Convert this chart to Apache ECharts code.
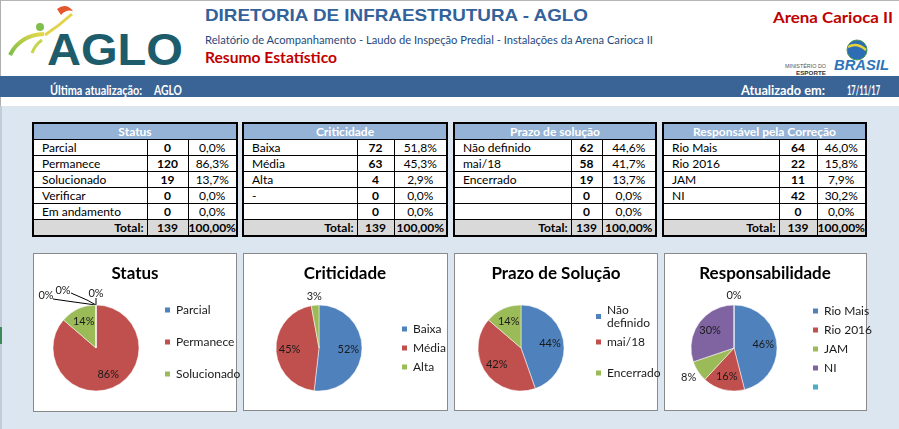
<!DOCTYPE html>
<html><head><meta charset="utf-8">
<script src="https://cdn.jsdelivr.net/npm/echarts@6.0.0/dist/echarts.min.js"></script>
<style>
html,body{margin:0;padding:0;width:899px;height:429px;overflow:hidden;background:#fff;font-family:Lato,'Open Sans',sans-serif;}
#page{position:relative;width:899px;height:429px;}
.abs{position:absolute;white-space:nowrap;}
.fit{display:inline-block;transform-origin:0 0;}
table.t{position:absolute;border-collapse:collapse;table-layout:fixed;border:2px solid #000;font-family:Lato,sans-serif;font-size:12px;color:#000;background:#fff;}
table.t td{border:1px solid #000;height:15px;padding:0;line-height:15px;overflow:hidden;white-space:nowrap;}
table.t th{background:#95B3D7;color:#fff;font-weight:bold;height:15px;padding:0;line-height:15px;border-bottom:1px solid #000;font-size:12px;}
table.t td.lab{padding-left:8px;}
table.t td.cnt{text-align:center;font-weight:bold;}
table.t td.pct{text-align:center;}
table.t tr.tot td{background:#D9D9D9;font-weight:bold;}
table.t tr.tot td.lab{text-align:right;padding-right:3px;padding-left:0;}
.box{position:absolute;background:#fff;border:1px solid #8a8a8a;box-sizing:border-box;}
#chart{position:absolute;left:0;top:0;width:899px;height:429px;z-index:5;pointer-events:none;}
</style>
</head>
<body>
<div id="page">
  <div class="abs" style="left:0;top:0;width:899px;height:1px;background:#b5b5b5;"></div>
  <div class="abs" style="left:0;top:0;width:1px;height:106px;background:#b0b0b0;"></div>
  <svg class="abs" width="200" height="76" style="left:0;top:0">
    <defs><linearGradient id="g1" x1="0" y1="1" x2="1" y2="0"><stop offset="0" stop-color="#7DBE4A"/><stop offset="1" stop-color="#E6D84A"/></linearGradient></defs>
    <path d="M57 9 Q66 2 73 11 Q66 9 61 15 Z" fill="#E4572E"/>
    <path d="M72 14 Q60 25 45 35" stroke="#E3D24C" stroke-width="3" fill="none"/>
    <path d="M10 55 Q20 35 44 34" stroke="url(#g1)" stroke-width="4" fill="none"/>
    <circle cx="40" cy="27" r="4" fill="#7FBF4D"/>
    <path d="M32 53 Q35 45 42 40" stroke="#C6D54B" stroke-width="3" fill="none"/>
  </svg>
  <div class="abs" style="left:47px;top:29px;"><span class="fit" data-w="136" style="font-family:'Liberation Sans',Arial,sans-serif;font-weight:bold;font-size:44px;line-height:42px;color:#1D5C6B;">AGLO</span></div>
  <div class="abs" style="left:45px;top:68px;"><span class="fit" data-w="138" style="font-family:'Liberation Sans',Arial,sans-serif;font-weight:bold;font-size:6px;line-height:6px;color:#1D5C6B;">AUTORIDADE DE GOVERNANÇA DO LEGADO OLÍMPICO</span></div>

  <div class="abs" style="left:205px;top:5px;"><span class="fit" data-w="383" style="font-family:'Liberation Sans',Arial,sans-serif;font-weight:bold;font-size:17px;line-height:18px;color:#33629B;">DIRETORIA DE INFRAESTRUTURA - AGLO</span></div>
  <div class="abs" style="left:205px;top:28px;"><span class="fit" data-w="448" style="font-size:11px;line-height:13px;color:#1F497D;">Relatório de Acompanhamento - Laudo de Inspeção Predial - Instalações da Arena Carioca II</span></div>
  <div class="abs" style="left:205px;top:47px;"><span class="fit" data-w="132" style="font-size:15px;line-height:18px;font-weight:bold;color:#C00000;">Resumo Estatístico</span></div>
  <div class="abs" style="left:773px;top:7px;"><span class="fit" data-w="120" style="font-size:15px;line-height:18px;font-weight:bold;color:#C00000;">Arena Carioca II</span></div>

  <div class="abs" style="left:785px;top:52px;"><span class="fit" data-w="41" style="font-family:'Liberation Sans',sans-serif;font-size:6px;line-height:6px;color:#555;">MINISTÉRIO DO</span></div>
  <div class="abs" style="left:796px;top:59px;"><span class="fit" data-w="30" style="font-family:'Liberation Sans',sans-serif;font-size:6px;line-height:6px;font-weight:bold;color:#333;">ESPORTE</span></div>
  <svg class="abs" width="70" height="36" style="left:830px;top:38px">
    <circle cx="27" cy="12" r="10" fill="#2C6DB3"/>
    <path d="M18 9 Q27 4 36 12" stroke="#E9D33C" stroke-width="2.5" fill="none"/>
    <circle cx="27" cy="12" r="10" fill="none" stroke="#4B9A52" stroke-width="1"/>
  </svg>
  <div class="abs" style="left:834px;top:54px;"><span class="fit" data-w="55" style="font-family:'Liberation Sans',sans-serif;font-style:italic;font-weight:bold;font-size:15px;line-height:15px;color:#2E74B8;">BRASIL</span></div>
  <div class="abs" style="left:838px;top:69px;"><span class="fit" data-w="50" style="font-family:'Liberation Sans',sans-serif;font-size:3px;line-height:3px;color:#6a8db8;">GOVERNO FEDERAL</span></div>

  <div class="abs" style="left:0;top:76px;width:899px;height:21px;background:#3A6396;"></div>
  <div class="abs" style="left:50px;top:79px;"><span class="fit" data-w="92" style="font-size:12.5px;line-height:15px;font-weight:bold;color:#fff;">Última atualização:</span></div>
  <div class="abs" style="left:154px;top:79px;"><span class="fit" data-w="28" style="font-size:12.5px;line-height:15px;font-weight:bold;color:#fff;">AGLO</span></div>
  <div class="abs" style="left:741px;top:79px;"><span class="fit" data-w="84" style="font-size:12.5px;line-height:15px;font-weight:bold;color:#fff;">Atualizado em:</span></div>
  <div class="abs" style="left:847px;top:79px;"><span class="fit" data-w="33" style="font-size:12.5px;line-height:15px;font-weight:bold;color:#fff;">17/11/17</span></div>

  <div class="abs" style="left:0;top:106px;width:899px;height:323px;background:#DCE6F1;"></div>
  <div class="abs" style="left:0;top:106px;width:2px;height:323px;background:#c2cbd7;"></div>
  <div class="abs" style="left:0;top:327px;width:2px;height:17px;background:#3b8a5a;"></div>

  <div id="tables"></div>

  <div class="box" style="left:33px;top:253px;width:204px;height:159px;"></div>
  <div class="box" style="left:243px;top:253px;width:205px;height:158px;"></div>
  <div class="box" style="left:454px;top:253px;width:204px;height:158px;"></div>
  <div class="box" style="left:664px;top:253px;width:203px;height:158px;"></div>
</div>
<div id="chart"></div>
<script>
// ---------------- DATA ----------------
const statusTitle = 'Status';
const statusCategories = ['Parcial', 'Permanece', 'Solucionado', 'Verificar', 'Em andamento'];
const statusCounts = [0, 120, 19, 0, 0];

const critTitle = 'Criticidade';
const critCategories = ['Baixa', 'Média', 'Alta', '-', ''];
const critCounts = [72, 63, 4, 0, 0];

const prazoTitle = 'Prazo de solução';
const prazoCategories = ['Não definido', 'mai/18', 'Encerrado', '', ''];
const prazoCounts = [62, 58, 19, 0, 0];

const respTitle = 'Responsável pela Correção';
const respCategories = ['Rio Mais', 'Rio 2016', 'JAM', 'NI', ''];
const respCounts = [64, 22, 11, 42, 0];

const pieTitles = ['Status', 'Criticidade', 'Prazo de Solução', 'Responsabilidade'];
const totalLabel = 'Total:';
const totalPctLabel = '100,00%';

// ---------------- TABLES ----------------
function pctText(v, total) { return (v / total * 100).toFixed(1).replace('.', ',') + '%'; }
function buildTable(left, top, colW, title, cats, counts) {
  const total = counts.reduce((a, b) => a + b, 0);
  const w = colW.reduce((a, b) => a + b, 0);
  let h = `<table class="t" style="left:${left}px;top:${top}px;width:${w}px;">`;
  h += '<colgroup>' + colW.map(c => `<col style="width:${c}px">`).join('') + '</colgroup>';
  h += `<tr><th colspan="3">${title}</th></tr>`;
  cats.forEach((c, i) => {
    h += `<tr><td class="lab">${c}</td><td class="cnt">${counts[i]}</td><td class="pct">${pctText(counts[i], total)}</td></tr>`;
  });
  h += `<tr class="tot"><td class="lab">${totalLabel}</td><td class="cnt">${total}</td><td class="pct">${totalPctLabel}</td></tr>`;
  h += '</table>';
  return h;
}
document.getElementById('tables').innerHTML =
  buildTable(32, 122, [114, 41, 49], statusTitle, statusCategories, statusCounts) +
  buildTable(242, 122, [114, 37, 53], critTitle, critCategories, critCounts) +
  buildTable(453, 122, [117, 31, 54], prazoTitle, prazoCategories, prazoCounts) +
  buildTable(662, 122, [116, 38, 49], respTitle, respCategories, respCounts);

// fit header texts
document.querySelectorAll('.fit').forEach(el => {
  const target = +el.dataset.w;
  const r = el.getBoundingClientRect();
  if (r.width > 0) el.style.transform = `scaleX(${target / r.width})`;
});

// ---------------- PIES ----------------
const palette = ['#4F81BD', '#C0504D', '#9BBB59', '#8064A2', '#4BACC6'];
const FONT = 'Lato, sans-serif';
const R = 43, CY = 348;

function makeLayout(cx, outside, special) {
  return function (p) {
    const i = p.dataIndex;
    if (special && special[i]) {
      const s = special[i];
      const a = [cx, CY - R];
      return {
        x: a[0] + s.l[0], y: a[1] + s.l[1], align: 'center', verticalAlign: 'middle',
        labelLinePoints: s.line.map(d => [a[0] + d[0], a[1] + d[1]])
      };
    }
    if (outside && outside[i] != null) {
      let px, py;
      if (p.labelLinePoints && p.labelLinePoints[0]) { px = p.labelLinePoints[0][0]; py = p.labelLinePoints[0][1]; }
      else { const lr = p.labelRect; px = lr.x + lr.width / 2; py = lr.y + lr.height / 2; }
      const dx = px - cx, dy = py - CY, d = Math.hypot(dx, dy) || 1;
      return { x: cx + dx / d * outside[i], y: CY + dy / d * outside[i], align: 'center', verticalAlign: 'middle' };
    }
    const lr = p.labelRect;
    const lx = lr.x + lr.width / 2, ly = lr.y + lr.height / 2;
    return { x: cx + (lx - cx) * 1.2, y: CY + (ly - CY) * 1.2, align: 'center', verticalAlign: 'middle' };
  };
}

function pieData(cats, counts, n, outsideIdx, lineIdx) {
  const out = [];
  for (let i = 0; i < n; i++) {
    const item = { name: cats[i] === '' ? ' ' : cats[i], value: counts[i], itemStyle: { color: palette[i] } };
    if (outsideIdx.includes(i)) {
      item.label = { position: 'outside' };
      item.labelLine = lineIdx.includes(i)
        ? { show: true, length: 6, length2: 6, lineStyle: { color: '#000', width: 1 } }
        : { show: true, length: 2, length2: 0, lineStyle: { width: 0, opacity: 0 } };
    }
    out.push(item);
  }
  return out;
}

function pieSeries(cx, data, layout) {
  return {
    type: 'pie', radius: R, center: [cx, CY], startAngle: 90, clockwise: true,
    percentPrecision: 0, silent: true, animation: false, avoidLabelOverlap: false,
    label: { position: 'inside', formatter: '{d}%', fontSize: 11, color: '#1a1a1a', fontFamily: FONT },
    labelLine: { show: false },
    itemStyle: { borderColor: '#fff', borderWidth: 0.5 },
    emphasis: { disabled: true },
    labelLayout: layout,
    data: data
  };
}

const statusSpecial = {
  0: { l: [0, -12], line: [[0, 0], [0, -7], [0, -7]] },
  3: { l: [-33, -15], line: [[0, 0], [-9, -5], [-25, -12]] },
  4: { l: [-50, -10], line: [[0, 0], [-22, -3], [-43, -6]] }
};

const legendText = { fontSize: 12, lineHeight: 14, color: '#1a1a1a', fontFamily: FONT };
function legend(left, top, names, gap, extraText) {
  return {
    orient: 'vertical', left: left, top: top, padding: 0, itemWidth: 7, itemHeight: 7, itemGap: gap,
    icon: 'rect', selectedMode: false, data: names,
    textStyle: Object.assign({}, legendText, extraText || {})
  };
}

const chart = echarts.init(document.getElementById('chart'), null, { renderer: 'canvas' });
chart.setOption({
  backgroundColor: 'transparent',
  animation: false,
  title: [
    { text: pieTitles[0], left: 135, top: 265, textAlign: 'center', padding: 0 },
    { text: pieTitles[1], left: 345, top: 265, textAlign: 'center', padding: 0 },
    { text: pieTitles[2], left: 556, top: 265, textAlign: 'center', padding: 0 },
    { text: pieTitles[3], left: 765, top: 265, textAlign: 'center', padding: 0 }
  ].map(t => Object.assign(t, { textStyle: { fontSize: 17, fontWeight: 'bold', color: '#000', fontFamily: FONT } })),
  legend: [
    legend(163, 303, statusCategories.slice(0, 3), 18),
    legend(400, 322, critCategories.slice(0, 3), 5),
    Object.assign(legend(594, 297, [prazoCategories[0]], 0, { padding: [13, 0, 0, 0], lineHeight: 13 }),
      { formatter: n => n.replace(' ', '\n') }),
    legend(594, 335, [prazoCategories[1]], 0),
    legend(594, 366, [prazoCategories[2]], 0),
    legend(811, 304, respCategories.map(c => c === '' ? ' ' : c), 5)
  ],
  series: [
    pieSeries(96, pieData(statusCategories, statusCounts, 5, [0, 3, 4], [0, 3, 4]), makeLayout(96, null, statusSpecial)),
    pieSeries(319, pieData(critCategories, critCounts, 3, [2], []), makeLayout(319, { 2: 52 }, null)),
    pieSeries(521, pieData(prazoCategories, prazoCounts, 3, [], []), makeLayout(521, null, null)),
    pieSeries(734, pieData(respCategories, respCounts, 5, [2, 4], []), makeLayout(734, { 2: 54, 4: 53 }, null))
  ]
});
</script>
</body></html>
